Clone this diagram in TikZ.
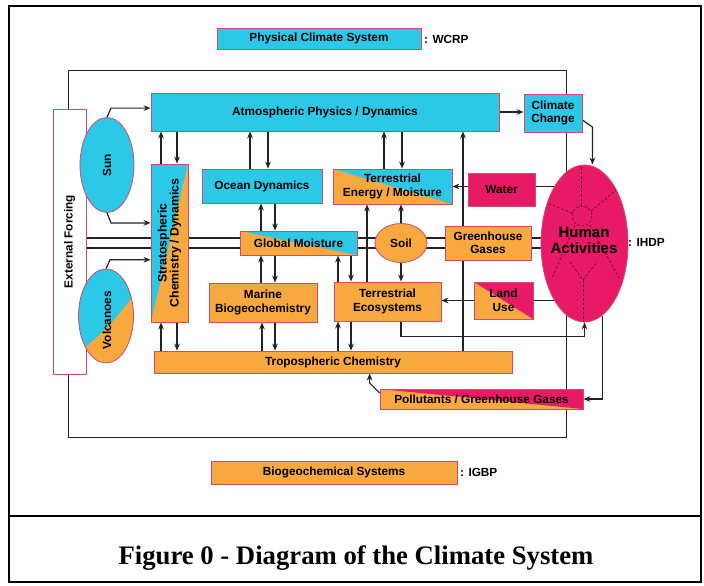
\documentclass[tikz,border=0pt]{standalone}
\usepackage{fontspec}
\setmainfont{Liberation Sans}
\newfontfamily\capfont{Liberation Serif}
\usetikzlibrary{arrows.meta,shapes.geometric,backgrounds,calc}
\definecolor{cyanC}{RGB}{44,200,232}
\definecolor{orangeC}{RGB}{247,168,62}
\definecolor{magC}{RGB}{232,26,104}
\definecolor{edgeC}{RGB}{214,72,110}
\definecolor{lineC}{RGB}{35,35,35}
\begin{document}
\begin{tikzpicture}[x=1pt,y=-1pt,
  box/.style={draw=edgeC, line width=0.8pt, inner sep=0pt, align=center,
    font=\bfseries\fontsize{11.8}{13.5}\selectfont},
  ebox/.style={ellipse, draw=edgeC, line width=0.8pt, inner sep=0pt, align=center,
    font=\bfseries\fontsize{11.8}{13.5}\selectfont},
  txt/.style={inner sep=0pt, align=center, font=\bfseries\fontsize{11.8}{13.5}\selectfont},
  lbl/.style={inner sep=0pt, font=\bfseries\fontsize{11.8}{13.5}\selectfont},
  trUp/.style={path picture={\fill[#1] (path picture bounding box.north west) -- (path picture bounding box.north east) -- (path picture bounding box.south east) -- cycle;}},
  lrDown/.style={path picture={\fill[#1] (path picture bounding box.north east) -- (path picture bounding box.south east) -- (path picture bounding box.south west) -- cycle;}},
  line/.style={draw=lineC, line width=1.2pt},
  arr/.style={line, -{Stealth[length=7pt,width=5.6pt]}},
  frame/.style={draw=lineC, line width=0.8pt},
  hadash/.style={draw=black!65!magC, line width=0.6pt, dash pattern=on 2.5pt off 2pt}
]
\useasboundingbox (0,0) rectangle (704,586);

% legend
\node[box, fill=cyanC, minimum width=204pt, minimum height=21pt] (pcs) at (319,38.5) {Physical Climate System};
\node[lbl, anchor=west] (wcrp) at (424,39) {: WCRP};
\node[box, fill=orangeC, minimum width=246pt, minimum height=23pt] (bgs) at (334,472.5) {Biogeochemical Systems};
\node[lbl, anchor=west] (igbp) at (460,472.5) {: IGBP};

% external forcing
\node[box, fill=white, minimum width=33pt, minimum height=265pt] (ext) at (69.5,241.5) {};
\node[txt, rotate=90] (extt) at (ext.center) {External Forcing};

\node[ebox, fill=cyanC, minimum width=54pt, minimum height=95pt] (sun) at (107,165) {};
\node[txt, rotate=90] (sunt) at (sun.center) {Sun};

\node[ellipse, inner sep=0pt, minimum width=55pt, minimum height=94pt] (volc) at (106,316) {};
\begin{scope}
  \clip (106,316) ellipse [x radius=27.5, y radius=47];
  \fill[orangeC] (70,260) rectangle (140,370);
  \fill[cyanC] (70,260) -- (140,260) -- (140,286) .. controls (122,312) and (104,333) .. (80,351) -- (70,351) -- cycle;
\end{scope}
\draw[draw=edgeC, line width=0.8pt] (106,316) ellipse [x radius=27.5, y radius=47];
\node[txt, rotate=90] (volct) at (107,320) {Volcanoes};

% main boxes
\node[box, fill=cyanC, lrDown=orangeC, minimum width=37pt, minimum height=158pt] (strato) at (169.5,243) {};
\node[inner sep=0pt, rotate=90, align=center, font=\bfseries\fontsize{12.3}{12}\selectfont] (stratot) at (strato.center) {Stratospheric\\Chemistry / Dynamics};

\node[box, fill=cyanC, minimum width=348pt, minimum height=38pt] (atm) at (325,112) {Atmospheric Physics / Dynamics};
\node[box, fill=cyanC, minimum width=58pt, minimum height=38pt] (cc) at (553,113) {Climate\\Change};
\node[box, fill=cyanC, minimum width=120pt, minimum height=34pt] (ocean) at (262,186) {Ocean Dynamics};
\node[box, fill=orangeC, trUp=cyanC, minimum width=117pt, minimum height=24pt] (gm) at (298.5,243) {Global Moisture};
\node[box, fill=orangeC, trUp=cyanC, minimum width=119pt, minimum height=35pt] (te) at (392.5,186.5) {Terrestrial\\Energy / Moisture};
\node[box, fill=magC, minimum width=67pt, minimum height=33pt] (water) at (501.5,189.5) {Water};
\node[box, fill=orangeC, minimum width=108pt, minimum height=39pt] (marine) at (263,302.5) {Marine\\Biogeochemistry};
\node[box, fill=orangeC, minimum width=107pt, minimum height=39pt] (terreco) at (387.5,301.5) {Terrestrial\\Ecosystems};
\node[ebox, fill=orangeC, minimum width=52pt, minimum height=39pt] (soil) at (401,243) {Soil};
\node[box, fill=orangeC, minimum width=86pt, minimum height=34pt] (gg) at (488,243) {Greenhouse\\Gases};
\node[box, fill=orangeC, trUp=magC, minimum width=59pt, minimum height=37pt] (lu) at (503.5,300.5) {Land\\Use};
\node[box, fill=orangeC, minimum width=358pt, minimum height=22pt] (tropo) at (333,362) {Tropospheric Chemistry};
\node[box, fill=orangeC, trUp=magC, minimum width=203pt, minimum height=20pt] (pol) at (481.5,399) {Pollutants / Greenhouse Gases};

% human activities
\node[ebox, fill=magC, minimum width=87pt, minimum height=157pt] (ha) at (584.5,243.5) {};
\draw[hadash] (581,167) -- (581,206);
\draw[hadash] (582,216) circle (10);
\draw[hadash] (591,211) -- (616,190);
\draw[hadash] (572,213) -- (547,203);
\draw[hadash] (575,225) -- (552,278);
\draw[hadash] (590,225) -- (620,280);
\draw[hadash] (570,262) -- (583,280) -- (597,262);
\draw[hadash] (583,280) -- (583,321);
\node[inner sep=0pt, align=center, font=\bfseries\fontsize{15}{16}\selectfont] (hat) at (584,240) {Human\\Activities};
\node[lbl, anchor=west] (ihdp) at (628,242) {: IHDP};

% columns
\foreach \k in {161,177,250,261,262,268,275,338,351,367,384,402,463}
  \coordinate (k\k) at (\k,0);

\begin{scope}[on background layer]
  \fill[white] (0,0) rectangle (704,586);
  \draw[frame] (68,70) rectangle (566,437);
  % sun, volcanoes
  \draw[arr] (sun.north) -- ++(4,-9) coordinate (sa) -- (sa -| atm.west);
  \draw[arr] (sun.south) -- ++(4,10) coordinate (sb) -- (sb -| strato.west);
  \draw[arr] (volc.north) -- ++(4,-9) coordinate (va) -- (va -| strato.west);
  % double lines
  \draw[line] ([yshift=3.5pt]ext.east) -- ([yshift=3.5pt]ext.east -| ha.center);
  \draw[line] ([yshift=-6.5pt]ext.east) -- ([yshift=-6.5pt]ext.east -| ha.center);
  % to/from atmosphere
  \draw[arr] (k161 |- strato.north) -- (k161 |- atm.south);
  \draw[arr] (k177 |- atm.south) -- (k177 |- strato.north);
  \draw[arr] (k250 |- ocean.north) -- (k250 |- atm.south);
  \draw[arr] (k268 |- atm.south) -- (k268 |- ocean.north);
  \draw[arr] (k384 |- te.north) -- (k384 |- atm.south);
  \draw[arr] (k402 |- atm.south) -- (k402 |- te.north);
  \draw[arr] (k463 |- tropo.north) -- (k463 |- atm.south);
  \draw[arr] (atm.east) -- (atm.east -| cc.west);
  \draw[arr] ([yshift=-7pt]cc.east) -- ++(10,7) coordinate (ca) -- (ca |- ha.north);
  % ocean, global moisture, marine
  \draw[arr] (k261 |- gm.north) -- (k261 |- ocean.south);
  \draw[arr] (k275 |- ocean.south) -- (k275 |- gm.north);
  \draw[arr] (k261 |- marine.north) -- (k261 |- gm.south);
  \draw[arr] (k275 |- gm.south) -- (k275 |- marine.north);
  % terrestrial
  \draw[arr] (k338 |- terreco.north) -- (k338 |- gm.south);
  \draw[arr] (k351 |- gm.south) -- (k351 |- terreco.north);
  \draw[arr] (k367 |- terreco.north) -- (k367 |- te.south);
  \draw[arr] (soil.north) -- (soil.north |- te.south);
  \draw[arr] (soil.south) -- (soil.south |- terreco.north);
  % tropospheric
  \draw[arr] (k161 |- tropo.north) -- (k161 |- strato.south);
  \draw[arr] (k177 |- strato.south) -- (k177 |- tropo.north);
  \draw[arr] (k262 |- tropo.north) -- (k262 |- marine.south);
  \draw[arr] (k275 |- marine.south) -- (k275 |- tropo.north);
  \draw[arr] (k338 |- tropo.north) -- (k338 |- terreco.south);
  \draw[arr] (k351 |- terreco.south) -- (k351 |- tropo.north);
  % water, land use
  \draw[line] (ha.center |- te.east) -- (water.east |- te.east);
  \draw[arr] (water.west |- te.east) -- (te.east);
  \draw[line] (ha.center |- lu.east) -- (lu.east);
  \draw[arr] (lu.west) -- (lu.west -| terreco.east);
  % feedbacks
  \draw[arr] ([xshift=13.5pt]terreco.south) -- ++(0,15) -| (ha.south);
  \draw[arr] (ha.-76) |- (pol.east);
  \draw[arr] ([yshift=6pt]pol.west) -- ++(-10,-10) coordinate (pa) -- (pa |- tropo.south);
\end{scope}

% page frame and caption
\draw[line width=1.5pt] (9,6) rectangle (701,582);
\draw[line width=1.5pt] (9,516) -- (701,516);
\node[inner sep=0pt, font=\capfont\bfseries\fontsize{26.7}{28}\selectfont] (cap) at (356,558.5) {Figure 0 - Diagram of the Climate System};
\end{tikzpicture}
\end{document}
